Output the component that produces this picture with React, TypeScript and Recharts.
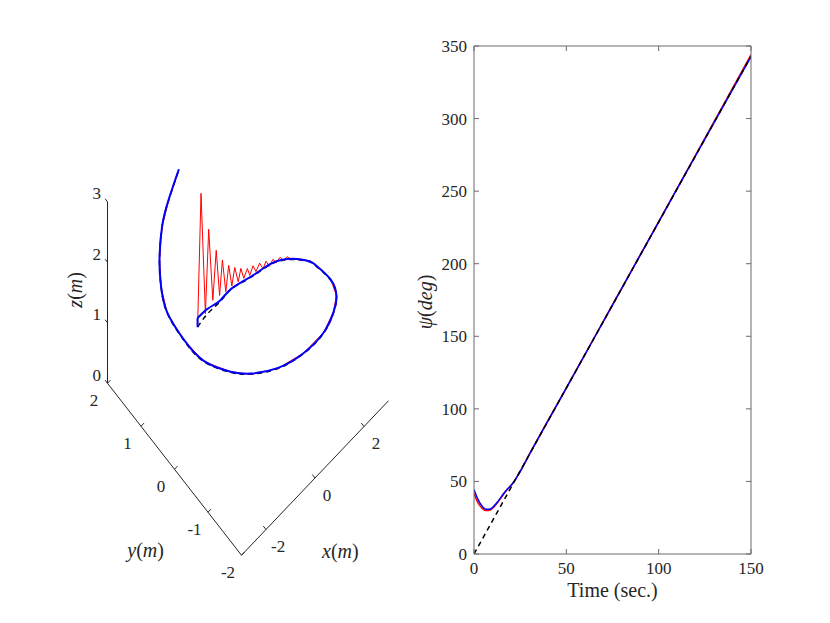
import React from 'react';
import { ComposedChart, LineChart, Line, XAxis, YAxis, Scatter, Label } from 'recharts';

const FONT = '"Liberation Serif", "Times New Roman", serif';
const TXT = '#262626';
const FRAME = '#6a6a6a';

// ---------------- 3D trajectory (metres) ----------------
// reference trajectory (black dashed)
const refX = [0.69, 0.96, 1.22, 1.43, 1.65, 1.84, 1.98, 2.08, 2.13, 2.11, 2.06, 1.79, 1.26, 0.76, 0.19, -0.54, -1.21, -1.68, -1.93, -2.12, -2.10, -1.85, -1.54, -1.26, -0.81, -0.36, 0.09];
const refY = [2.01, 1.90, 1.74, 1.58, 1.35, 1.08, 0.79, 0.47, 0.10, -0.31, -0.54, -1.15, -1.72, -1.99, -2.12, -2.06, -1.76, -1.31, -0.89, -0.23, 0.39, 1.06, 1.47, 1.72, 1.97, 2.10, 2.13];
const refZ = [-0.65, -0.46, -0.27, -0.05, 0.16, 0.41, 0.70, 0.96, 1.21, 1.47, 1.58, 1.91, 2.26, 2.39, 2.40, 2.33, 2.15, 1.94, 1.78, 1.57, 1.48, 1.34, 1.35, 1.50, 1.68, 1.84, 2.12];

// estimated trajectory (blue)
const estX = [0.69, 0.69, 0.96, 1.22, 1.43, 1.65, 1.84, 1.98, 2.08, 2.13, 2.11, 2.06, 1.79, 1.26, 0.76, 0.19, -0.54, -1.21, -1.68, -1.93, -2.12, -2.10, -1.85, -1.54, -1.26, -0.81, -0.36, 0.09];
const estY = [2.01, 2.01, 1.90, 1.74, 1.58, 1.35, 1.08, 0.79, 0.47, 0.10, -0.31, -0.54, -1.15, -1.72, -1.99, -2.12, -2.06, -1.76, -1.31, -0.89, -0.23, 0.39, 1.06, 1.47, 1.72, 1.97, 2.10, 2.13];
const estZ = [-0.65, -0.50, -0.38, -0.25, -0.04, 0.17, 0.42, 0.71, 0.97, 1.22, 1.48, 1.59, 1.92, 2.27, 2.40, 2.41, 2.34, 2.16, 1.95, 1.79, 1.58, 1.49, 1.35, 1.36, 1.51, 1.69, 1.85, 2.13];

// measured trajectory (red)
const measX = [0.69, 0.79, 0.90, 0.98, 1.08, 1.15, 1.22, 1.28, 1.35, 1.40, 1.46, 1.51, 1.57, 1.61, 1.66, 1.71, 1.74, 1.79, 1.83, 1.87, 1.91, 1.94, 1.97, 2.00, 2.03, 2.06, 2.08, 2.10, 2.11, 2.13, 2.11, 2.06, 1.79, 1.26, 0.76, 0.19, -0.54, -1.21, -1.68, -1.93, -2.12, -2.10, -1.85, -1.54, -1.26, -0.81, -0.36, 0.09];
const measY = [2.01, 1.98, 1.93, 1.89, 1.84, 1.79, 1.74, 1.70, 1.65, 1.60, 1.55, 1.50, 1.44, 1.39, 1.34, 1.27, 1.22, 1.16, 1.10, 1.02, 0.95, 0.88, 0.80, 0.72, 0.64, 0.55, 0.46, 0.37, 0.26, 0.10, -0.31, -0.54, -1.15, -1.72, -1.99, -2.12, -2.06, -1.76, -1.31, -0.89, -0.23, 0.39, 1.06, 1.47, 1.72, 1.97, 2.10, 2.13];
const measZ = [-0.65, 1.54, -0.46, 0.93, -0.25, 0.58, -0.16, 0.43, -0.09, 0.36, 0.03, 0.35, 0.13, 0.37, 0.22, 0.41, 0.32, 0.50, 0.43, 0.61, 0.55, 0.71, 0.67, 0.83, 0.82, 0.96, 0.96, 1.08, 1.11, 1.23, 1.49, 1.60, 1.93, 2.28, 2.41, 2.41, 2.34, 2.15, 1.94, 1.79, 1.57, 1.48, 1.34, 1.35, 1.50, 1.68, 1.84, 2.12];

// 3D axes
const xLim = [-3, 3];
const yLim = [-2, 2];
const zLim = [0, 3];
const xTicks3d = [-2, 0, 2];
const yTicks3d = [-2, -1, 0, 1, 2];
const zTicks3d = [0, 1, 2, 3];

// ---------------- heading ----------------
const timeRef = [0, 150];
const psiRef = [0, 343];
const timeEst = [0, 2, 4, 6, 8, 10, 12, 14, 16, 18, 20, 22, 25, 30, 50, 75, 100, 125, 150];
const psiEst = [44.5, 38.0, 33.6, 31.0, 30.8, 32.0, 34.8, 38.0, 41.5, 44.6, 47.2, 50.6, 56.8, 68.6, 114.3, 171.5, 228.7, 285.9, 342.6];
const psiMeas = [41.8, 35.5, 32.0, 30.0, 30.0, 31.4, 34.2, 37.6, 41.2, 44.4, 47.1, 50.6, 56.9, 68.8, 114.5, 171.8, 229.0, 286.4, 344.0];
const timeTicks = [0, 50, 100, 150];
const psiTicks = [0, 50, 100, 150, 200, 250, 300, 350];

// ---------------- view projection ----------------
// screen units per metre along each data axis: [horizontal, vertical]
const VIEW_X = [24.5, 25.75];
const VIEW_Y = [-33.5, 43];
const VIEW_Z = [0, 60.5];

type Pt = { u: number; v: number | null; [k: string]: any };
const project = (x: number, y: number, z: number): Pt => ({
  u: VIEW_X[0] * x + VIEW_Y[0] * y + VIEW_Z[0] * z,
  v: VIEW_X[1] * x + VIEW_Y[1] * y + VIEW_Z[1] * z,
});
const toPath = (xs: number[], ys: number[], zs: number[]) => xs.map((x, i) => project(x, ys[i], zs[i]));

const refPath = toPath(refX, refY, refZ);
const estStart = toPath(estX.slice(0, 2), estY.slice(0, 2), estZ.slice(0, 2));
const estPath = toPath(estX.slice(1), estY.slice(1), estZ.slice(1));
const measPath = toPath(measX, measY, measZ);

const frame3d = [
  project(xLim[0], yLim[1], zLim[1]),
  project(xLim[0], yLim[1], zLim[0]),
  project(xLim[0], yLim[0], zLim[0]),
  project(xLim[1], yLim[0], zLim[0]),
];

const tickSegs: Pt[] = [];
const addSeg = (a: number[], b: number[]) => {
  const p = project(a[0], a[1], a[2]);
  const q = project(b[0], b[1], b[2]);
  tickSegs.push(p, q, { u: q.u, v: null });
};
zTicks3d.forEach((z) => addSeg([xLim[0], yLim[1], z], [xLim[0], yLim[1] + 0.07, z]));
yTicks3d.forEach((y) => addSeg([xLim[0], y, zLim[0]], [xLim[0] + 0.12, y, zLim[0]]));
xTicks3d.forEach((x) => addSeg([x, yLim[0], zLim[0]], [x, yLim[0] + 0.08, zLim[0]]));

const labels3d: Pt[] = [
  ...zTicks3d.map((z) => ({ ...project(xLim[0] - 0.1, yLim[1] + 0.25, z), text: String(z) })),
  ...yTicks3d.map((y) => ({ ...project(xLim[0] - 0.55, y, zLim[0] - 0.05), text: String(y) })),
  ...xTicks3d.map((x) => ({ ...project(x, yLim[0] - 0.36, zLim[0] - 0.03), text: String(x) })),
  { ...project(-3.5, 2.6, 1.33), text: 'z', math: true, rot: true },
  { ...project(-5, -0.6, -0.05), text: 'y', math: true },
  { ...project(-0.7, -3.27, 0), text: 'x', math: true },
];

const TextShape = (props: any) => {
  const { cx, cy, payload } = props;
  if (payload.math) {
    return (
      <text
        x={cx}
        y={cy}
        textAnchor="middle"
        dominantBaseline="central"
        fontFamily={FONT}
        fontSize={20}
        fill={TXT}
        transform={payload.rot ? `rotate(-90 ${cx} ${cy})` : undefined}
      >
        <tspan fontStyle="italic">{payload.text}</tspan>(<tspan fontStyle="italic">m</tspan>)
      </text>
    );
  }
  return (
    <text x={cx} y={cy} textAnchor="middle" dominantBaseline="central" fontFamily={FONT} fontSize={17} fill={TXT}>
      {payload.text}
    </text>
  );
};

// ---------------- right-panel data tables ----------------
const refHeading = timeRef.map((t, i) => ({ t, psi: psiRef[i] }));
const estHeading = timeEst.map((t, i) => ({ t, psi: psiEst[i] }));
const measHeading = timeEst.map((t, i) => ({ t, psi: psiMeas[i] }));

const BottomTick = (p: any) => (
  <g>
    <line x1={p.x} x2={p.x} y1={p.y} y2={p.y - 5} stroke={FRAME} />
    <text x={p.x} y={p.y + 20} textAnchor="middle" fontFamily={FONT} fontSize={17} fill={TXT}>
      {p.payload.value}
    </text>
  </g>
);
const TopTick = (p: any) => <line x1={p.x} x2={p.x} y1={p.y} y2={p.y + 5} stroke={FRAME} />;
const LeftTick = (p: any) => (
  <g>
    <line x1={p.x} x2={p.x + 5} y1={p.y} y2={p.y} stroke={FRAME} />
    <text x={p.x - 7} y={p.y + 6} textAnchor="end" fontFamily={FONT} fontSize={17} fill={TXT}>
      {p.payload.value}
    </text>
  </g>
);
const RightTick = (p: any) => <line x1={p.x} x2={p.x - 5} y1={p.y} y2={p.y} stroke={FRAME} />;

export default function App() {
  return (
    <div style={{ position: 'absolute', left: 0, top: 0, width: 830, height: 623, background: '#fff', overflow: 'hidden' }}>
      <div style={{ position: 'absolute', left: 0, top: 0 }}>
        <ComposedChart width={430} height={623} margin={{ top: 0, right: 0, bottom: 0, left: 0 }}>
          <XAxis type="number" dataKey="u" domain={[-248, 182]} hide allowDataOverflow />
          <YAxis type="number" dataKey="v" domain={[-231, 392]} hide allowDataOverflow />
          <Line data={frame3d} dataKey="v" type="linear" stroke={TXT} strokeWidth={1} dot={false} isAnimationActive={false} />
          <Line data={tickSegs} dataKey="v" type="linear" stroke={TXT} strokeWidth={1} dot={false} isAnimationActive={false} connectNulls={false} />
          <Line data={refPath} dataKey="v" type="natural" stroke="#000" strokeWidth={1.5} strokeDasharray="5 4" dot={false} isAnimationActive={false} />
          <Line data={measPath} dataKey="v" type="linear" stroke="#ff0000" strokeWidth={1} dot={false} isAnimationActive={false} />
          <Line data={estStart} dataKey="v" type="linear" stroke="#0000ff" strokeWidth={2} dot={false} isAnimationActive={false} />
          <Line data={estPath} dataKey="v" type="natural" stroke="#0000ff" strokeWidth={2} dot={false} isAnimationActive={false} />
          <Scatter data={labels3d} dataKey="v" shape={TextShape} isAnimationActive={false} />
        </ComposedChart>
      </div>
      <div style={{ position: 'absolute', left: 410, top: 0 }}>
        <LineChart width={420} height={623} margin={{ top: 45, right: 78, bottom: 68, left: 63 }}>
          <XAxis type="number" dataKey="t" domain={[0, 150]} ticks={timeTicks} height={1} tickSize={0} tickMargin={0}
            tick={<BottomTick />} axisLine={{ stroke: FRAME }} tickLine={false} allowDataOverflow interval={0}>
            <Label
              content={() => (
                <text x={612.5 - 410} y={597} textAnchor="middle" fontFamily={FONT} fontSize={20} fill={TXT}>
                  Time (sec.)
                </text>
              )}
            />
          </XAxis>
          <XAxis xAxisId="top" orientation="top" type="number" dataKey="t" domain={[0, 150]} ticks={timeTicks} height={1}
            tickSize={0} tickMargin={0} tick={<TopTick />} axisLine={{ stroke: FRAME }} tickLine={false} allowDataOverflow interval={0} />
          <YAxis type="number" domain={[0, 350]} ticks={psiTicks} width={1} tickSize={0} tickMargin={0}
            tick={<LeftTick />} axisLine={{ stroke: FRAME }} tickLine={false} allowDataOverflow interval={0}>
            <Label
              content={() => (
                <text x={432 - 410} y={302} textAnchor="middle" fontFamily={FONT} fontSize={20} fill={TXT}
                  transform={`rotate(-90 ${432 - 410} 302)`}>
                  <tspan fontStyle="italic">ψ</tspan>(<tspan fontStyle="italic">deg</tspan>)
                </text>
              )}
            />
          </YAxis>
          <YAxis yAxisId="right" orientation="right" type="number" domain={[0, 350]} ticks={psiTicks} width={1}
            tickSize={0} tickMargin={0} tick={<RightTick />} axisLine={{ stroke: FRAME }} tickLine={false} allowDataOverflow interval={0} />
          <Line data={measHeading} dataKey="psi" type="monotone" stroke="#ff0000" strokeWidth={1.5} dot={false} isAnimationActive={false} />
          <Line data={estHeading} dataKey="psi" type="monotone" stroke="#0000ff" strokeWidth={1.5} dot={false} isAnimationActive={false} />
          <Line data={refHeading} dataKey="psi" type="linear" stroke="#000" strokeWidth={1.5} strokeDasharray="5 4" dot={false} isAnimationActive={false} />
        </LineChart>
      </div>
    </div>
  );
}
